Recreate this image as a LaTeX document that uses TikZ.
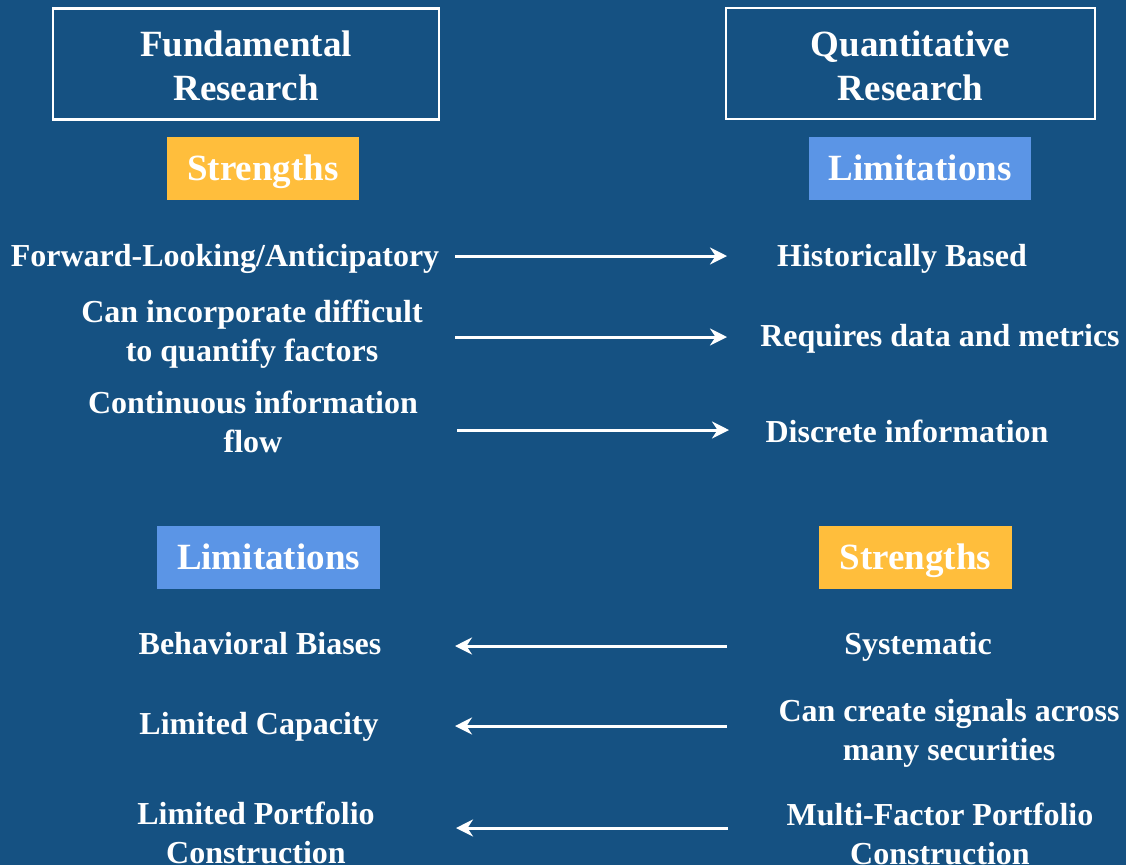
\documentclass[tikz,border=0pt]{standalone}
\usepackage{fontspec}
\setmainfont{Liberation Serif}
\usetikzlibrary{arrows.meta}
\definecolor{bgblue}{HTML}{155182}
\definecolor{tagorange}{HTML}{FFBE3C}
\definecolor{tagblue}{HTML}{5B95E6}
\tikzset{
  head/.style={draw=white, line width=2.5pt, minimum width=#1, minimum height=111pt,
    align=center, text=white, font=\fontsize{37}{44}\selectfont\bfseries},
  tag/.style={fill=#1, text=white, minimum height=63pt, inner sep=0pt,
    text height=24pt, text depth=0pt,
    font=\fontsize{37}{44}\selectfont\bfseries},
  item/.style={text=white, align=center, inner sep=0pt,
    font=\fontsize{32}{39}\selectfont\bfseries},
  link/.style={draw=white, line width=3pt,
    -{Stealth[length=17pt, width=17pt, inset=5.5pt]}},
}
\begin{document}
\begin{tikzpicture}[x=1pt, y=-1pt]
  \useasboundingbox[fill=bgblue] (0,0) rectangle (1126,865);

  % column headings: frame and its two-line title
  \node[head=386pt] (fund) at (246,64) {};
  \node[head=369pt] (quant) at (910.5,63.5) {};
  \node[align=center, text=white, font=\fontsize{37}{44}\selectfont\bfseries]
    (fundt) at (246,66) {Fundamental\\Research};
  \node[align=center, text=white, font=\fontsize{37}{44}\selectfont\bfseries]
    (quantt) at (910.5,66) {Quantitative\\Research};

  % top section tags
  \node[tag=tagorange, minimum width=192pt] (fs) at (263,168) {Strengths};
  \node[tag=tagblue, minimum width=222pt] (ql) at (920,168) {Limitations};

  % fundamental strengths vs quantitative limitations
  \node[item] (f1) at (225,259) {Forward-Looking/Anticipatory};
  \node[item] (f2) at (252,334) {Can incorporate difficult\\to quantify factors};
  \node[item] (f3) at (253,422) {Continuous information\\flow};
  \node[item] (q1) at (902,259) {Historically Based};
  \node[item] (q2) at (940,339) {Requires data and metrics};
  \node[item] (q3) at (907,431) {Discrete information};

  \coordinate (a1s) at (455,256);  \coordinate (a1e) at (727,256);
  \coordinate (a2s) at (455,337);  \coordinate (a2e) at (727,337);
  \coordinate (a3s) at (457,430);  \coordinate (a3e) at (729,430);
  \draw[link] (a1s) -- (a1e);
  \draw[link] (a2s) -- (a2e);
  \draw[link] (a3s) -- (a3e);

  % bottom section tags
  \node[tag=tagblue, minimum width=223pt] (fl) at (268.5,557) {Limitations};
  \node[tag=tagorange, minimum width=193pt] (qs) at (915.5,557) {Strengths};

  % quantitative strengths vs fundamental limitations
  \node[item] (l1) at (260,644) {Behavioral Biases};
  \node[item] (l2) at (259,727) {Limited Capacity};
  \node[item] (l3) at (256,833) {Limited Portfolio\\Construction};
  \node[item] (s1) at (918,647) {Systematic};
  \node[item] (s2) at (949,733) {Can create signals across\\many securities};
  \node[item] (s3) at (940,834) {Multi-Factor Portfolio\\Construction};

  \coordinate (b1s) at (727,646);  \coordinate (b1e) at (455,646);
  \coordinate (b2s) at (727,726);  \coordinate (b2e) at (455,726);
  \coordinate (b3s) at (728,828);  \coordinate (b3e) at (456,828);
  \draw[link] (b1s) -- (b1e);
  \draw[link] (b2s) -- (b2e);
  \draw[link] (b3s) -- (b3e);
\end{tikzpicture}
\end{document}
